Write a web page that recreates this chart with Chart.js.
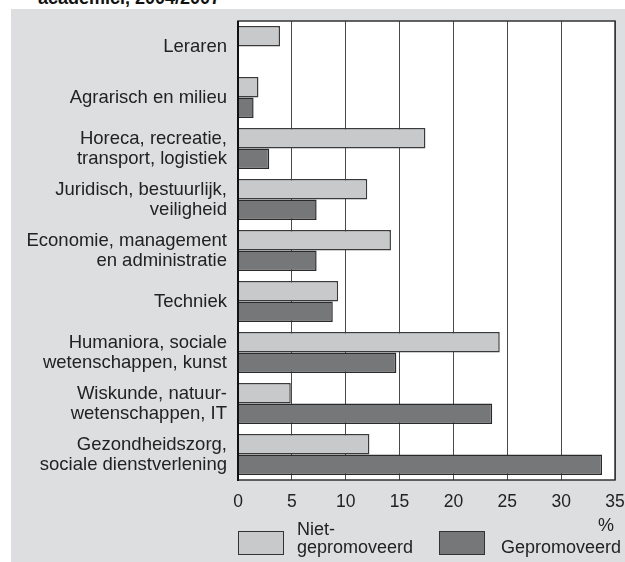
<!DOCTYPE html>
<html>
<head>
<meta charset="utf-8">
<script src="https://cdn.jsdelivr.net/npm/chart.js@4/dist/chart.umd.min.js"></script>
<style>
  html, body { margin:0; padding:0; background:#ffffff; width:625px; height:562px; overflow:hidden; font-family:"Liberation Sans", Arial, sans-serif; color:#222; }
  #bg { position:absolute; left:11px; top:9px; width:614px; height:553px; background:#dddee0; }
  #title { position:absolute; left:38px; top:-11px; font-weight:bold; font-size:18px; line-height:18px; color:#111; white-space:nowrap; }
  canvas { position:absolute; left:0; top:0; }
  .t { position:absolute; font-size:18px; line-height:18px; white-space:nowrap; color:#222; }
  .box { position:absolute; box-sizing:border-box; border:1.5px solid #333; }
</style>
</head>
<body>
<div id="title">academici, 2004/2007</div>
<div id="bg"></div>
<canvas id="c" width="625" height="562"></canvas>
<div class="box" style="left:238px;top:531px;width:46px;height:24px;background:#c8c9cb;"></div>
<div class="t" style="left:297px;top:520px;">Niet-<br>gepromoveerd</div>
<div class="box" style="left:439px;top:531px;width:46px;height:24px;background:#767779;"></div>
<div class="t" style="left:501px;top:538px;">Gepromoveerd</div>
<div class="t" style="right:11px;top:516px;">%</div>
<script>
const categories = [
  ["Leraren"],
  ["Agrarisch en milieu"],
  ["Horeca, recreatie,", "transport, logistiek"],
  ["Juridisch, bestuurlijk,", "veiligheid"],
  ["Economie, management", "en administratie"],
  ["Techniek"],
  ["Humaniora, sociale", "wetenschappen, kunst"],
  ["Wiskunde, natuur-", "wetenschappen, IT"],
  ["Gezondheidszorg,", "sociale dienstverlening"]
];
const nietGepromoveerd = [3.9, 1.9, 17.4, 12.0, 14.2, 9.3, 24.3, 4.9, 12.2];
const gepromoveerd = [null, 1.45, 2.9, 7.3, 7.3, 8.8, 14.7, 23.6, 33.8];
const xMin = 0, xMax = 35, xStep = 5;

const frame = {
  id: 'frame',
  beforeDraw(chart) {
    const a = chart.chartArea, ctx = chart.ctx;
    ctx.save();
    ctx.fillStyle = '#ffffff';
    ctx.fillRect(a.left, a.top, a.right - a.left, a.bottom - a.top);
    ctx.restore();
  },
  afterDraw(chart) {
    const a = chart.chartArea, ctx = chart.ctx;
    ctx.save();
    ctx.strokeStyle = '#333';
    ctx.lineWidth = 1.5;
    ctx.strokeRect(a.left, a.top, a.right - a.left, a.bottom - a.top);
    ctx.strokeStyle = '#111';
    ctx.lineWidth = 2;
    ctx.beginPath();
    ctx.moveTo(a.left, a.top);
    ctx.lineTo(a.left, a.bottom + 1);
    ctx.stroke();
    ctx.restore();
  }
};

new Chart(document.getElementById('c'), {
  type: 'bar',
  data: {
    labels: categories,
    datasets: [
      { label: 'Niet-gepromoveerd', data: nietGepromoveerd, backgroundColor: '#c8c9cb', borderColor: '#3a3a3a', borderWidth: 1.5, borderSkipped: 'left' },
      { label: 'Gepromoveerd', data: gepromoveerd, backgroundColor: '#767779', borderColor: '#2a2a2a', borderWidth: 1.5, borderSkipped: 'left' }
    ]
  },
  options: {
    indexAxis: 'y',
    responsive: false,
    animation: false,
    devicePixelRatio: 1,
    layout: { padding: { top: 21, right: 0, left: 0, bottom: 0 } },
    plugins: { legend: { display: false }, tooltip: { enabled: false } },
    datasets: { bar: { categoryPercentage: 0.8, barPercentage: 1.0 } },
    scales: {
      x: {
        min: xMin, max: xMax,
        ticks: { stepSize: xStep, color: '#222', font: { family: 'Liberation Sans', size: 17.5 }, padding: 12, maxRotation: 0 },
        grid: { color: '#4a4a4a', lineWidth: 1, drawTicks: false },
        border: { display: false },
        afterFit(s) { s.height = 82; s.paddingRight = 10; s.paddingLeft = 0; }
      },
      y: {
        ticks: { color: '#222', font: { family: 'Liberation Sans', size: 18.5, lineHeight: 1.08 }, padding: 11 },
        grid: { display: false, drawTicks: false },
        border: { display: false },
        afterFit(s) { s.width = 238; s.paddingTop = 0; s.paddingBottom = 0; }
      }
    }
  },
  plugins: [frame]
});
</script>
</body>
</html>
